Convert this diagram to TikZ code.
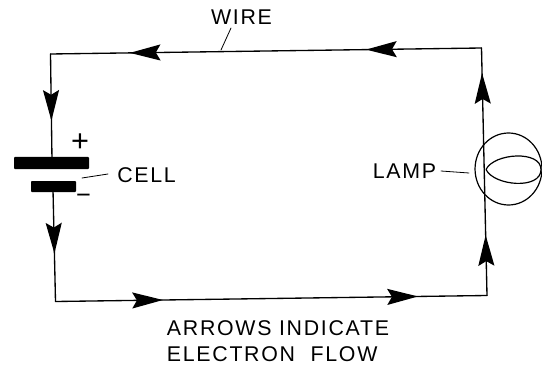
\documentclass[tikz,border=0pt]{standalone}
\usepackage{fontspec}
\setmainfont{Liberation Sans}[LetterSpace=8]
\usetikzlibrary{arrows.meta,decorations.markings,shapes.geometric}
\tikzset{
	flowtip/.tip={Stealth[length=23pt,width=12pt,inset=3.5pt]},
	wire/.style={line width=1pt},
	leader/.style={line width=0.6pt},
	plate/.style={fill=black,rounded corners=0.6pt},
	label/.style={inner sep=0pt,font=\fontsize{16pt}{19pt}\selectfont,align=left},
	flow/.style 2 args={postaction={decorate,decoration={markings,
		mark=at position #1 with {\arrow{flowtip}},
		mark=at position #2 with {\arrow{flowtip}}}}},
	flowone/.style={postaction={decorate,decoration={markings,
		mark=at position #1 with {\arrow{flowtip}}}}}
}
\begin{document}
\begin{tikzpicture}[x=0.75pt,y=-0.75pt,line join=round,line cap=round]
	\useasboundingbox (0,0) rectangle (542,367);
	% corners of the circuit
	\coordinate (tl) at (50.5,54);
	\coordinate (tr) at (481.5,48);
	\coordinate (br) at (487,295.5);
	\coordinate (bl) at (55.5,301.5);
	\coordinate (platetop) at (52,160);
	\coordinate (platebot) at (53,190);
	% wires
	\draw[wire,flow={0.268}{0.816}] (tr)--(tl);
	\draw[wire,flowone=0.63] (tl)--(platetop);
	\draw[wire,flowone=0.57] (platebot)--(bl);
	\draw[wire,flow={0.249}{0.84}] (bl)--(br);
	\draw[wire,flow={0.244}{0.899}] (br)--(tr);
	% cell
	\fill[plate] (14,157) rectangle (89,169);
	\fill[plate] (31,181) rectangle (76,192);
	% lamp
	\node[ellipse,draw,line width=0.9pt,inner sep=0pt,minimum width=50.2pt,minimum height=54pt] (lamp) at (508.5,169) {};
	\draw[line width=0.9pt] (486,169.5) .. controls (494,153) and (541,150) .. (541,169.5)
		.. controls (541,190) and (494,186) .. (486,169.5);
	% labels
	\node[label,anchor=center] (wirelabel) at (241.5,17) {WIRE};
	\node[label,anchor=center] (celllabel) at (146.5,175.5) {CELL};
	\node[label,anchor=center] (lamplabel) at (404.5,171.5) {LAMP};
	\node[label,anchor=center] (flowlabel) at (278,341) {ARROWS INDICATE\\[1pt]ELECTRON\hspace{6pt} FLOW};
	\node[label,anchor=center,font=\fontsize{23pt}{23pt}\selectfont] (plus) at (80,143) {+};
	\node[label,anchor=center,font=\fontsize{19pt}{19pt}\selectfont] (minus) at (83.5,199) {\char"2212};
	% leaders
	\coordinate (wiretap) at (221,50);
	\coordinate (wirefoot) at (231,28);
	\coordinate (cellfoot) at (108,174);
	\coordinate (celltap) at (82,178);
	\coordinate (lampfoot) at (441,171);
	\coordinate (lamptap) at (469,173);
	\draw[leader] (wirefoot)--(wiretap);
	\draw[leader] (cellfoot)--(celltap);
	\draw[leader] (lampfoot)--(lamptap);
\end{tikzpicture}
\end{document}
